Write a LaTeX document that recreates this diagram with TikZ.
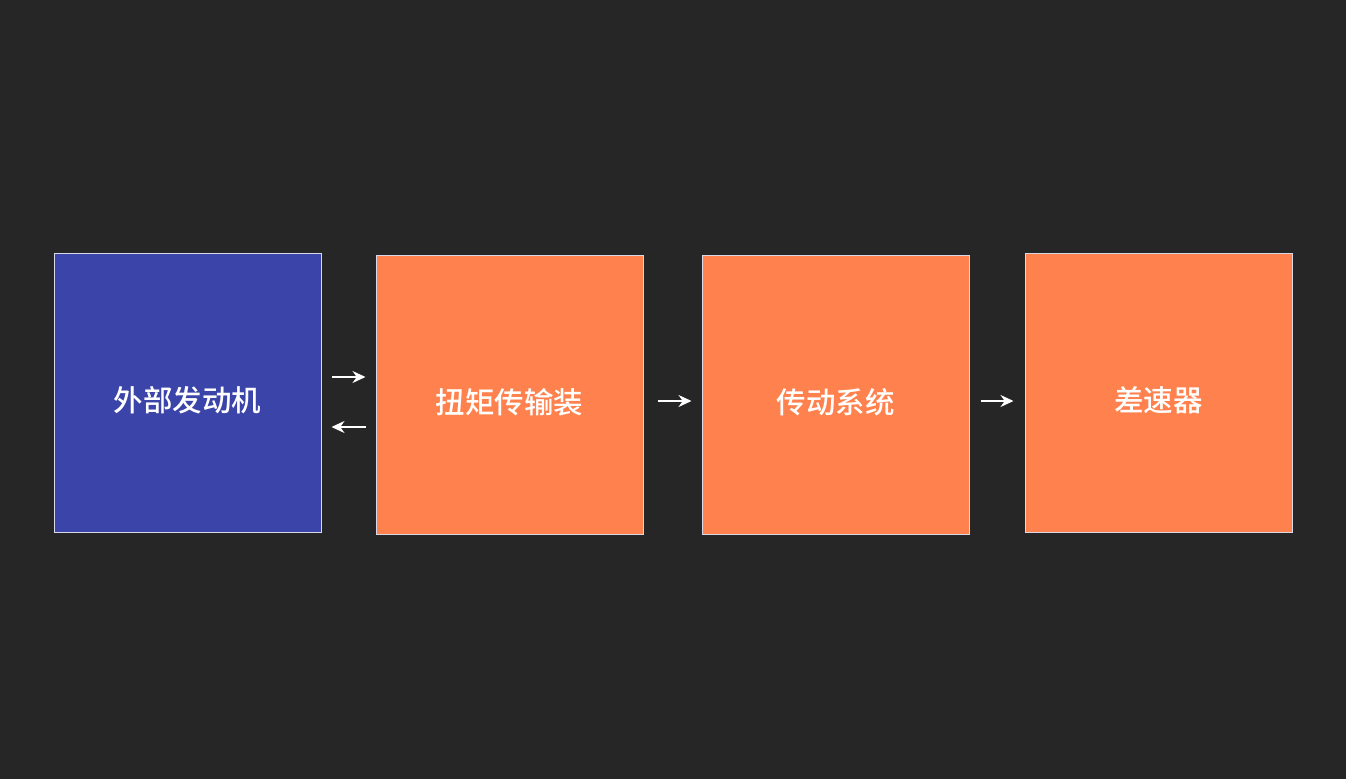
\documentclass[tikz,border=0pt]{standalone}
\usepackage{fontspec}
\newfontfamily\cjk{Noto Sans CJK SC Medium}[BoldFont={Noto Sans CJK SC Bold}]
\usetikzlibrary{arrows.meta,calc}
\definecolor{bg}{HTML}{262626}
\definecolor{engblue}{HTML}{3B44A8}
\definecolor{boxorange}{HTML}{FF814D}
\definecolor{edge}{HTML}{D8D8E8}
\tikzset{
  block/.style={draw=edge, line width=1pt, minimum width=267pt, minimum height=279pt, inner sep=0pt, text=white, text height=37pt, text depth=0pt, font=\cjk\fontsize{29.5}{32}\selectfont},
  flow/.style={draw=white, line width=1.6pt, -{Stealth[length=13pt,width=12pt]}}
}
\begin{document}
\begin{tikzpicture}[x=1pt,y=-1pt]
\fill[bg] (0,0) rectangle (1346,779);
\useasboundingbox (0,0) rectangle (1346,779);
\node[block, fill=engblue] (b1) at (187.5,392.5) {外部发动机};
\node[block, fill=boxorange] (b2) at (509.5,394.5) {扭矩传输装};
\node[block, fill=boxorange] (b3) at (835.5,394.5) {传动系统};
\node[block, fill=boxorange] (b4) at (1158.5,392.5) {差速器};
\draw[flow] ($(b1.east)+(10,-15.5)$) -- ($(b2.west)+(-10,-17.5)$);
\draw[flow] ($(b2.west)+(-10,32.5)$) -- ($(b1.east)+(10,34.5)$);
\draw[flow] ($(b2.east)+(14,6.5)$) -- ($(b3.west)+(-10,6.5)$);
\draw[flow] ($(b3.east)+(11,6.5)$) -- ($(b4.west)+(-11,8.5)$);
\end{tikzpicture}
\end{document}
